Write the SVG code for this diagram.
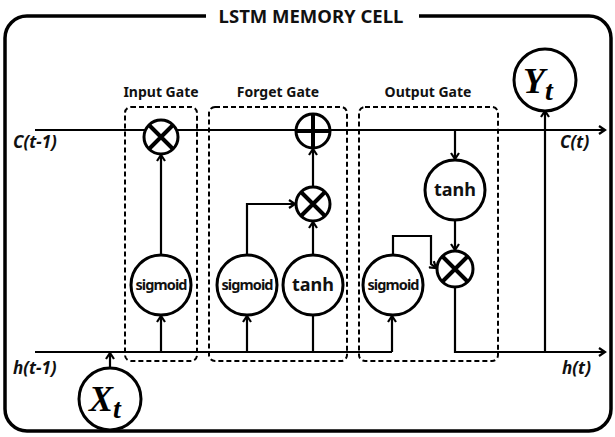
<svg xmlns="http://www.w3.org/2000/svg" width="615" height="437" viewBox="0 0 615 437">
<style>
.frame{fill:none;stroke:#000;stroke-width:3.5}
.gate{fill:none;stroke:#000;stroke-width:2;stroke-dasharray:5 3}
.node{fill:#fff;stroke:#000;stroke-width:3}
.op{stroke:#000;stroke-width:4}
.line{fill:none;stroke:#000;stroke-width:2.2}
.arr{fill:none;stroke:#000;stroke-width:2.2;marker-end:url(#ah)}
.t{font-family:"Noto Sans","Liberation Sans",sans-serif;font-weight:bold;fill:#111}
.gl{font-size:14px;text-anchor:middle}
.fn{font-size:14.5px;text-anchor:middle;letter-spacing:-0.9px}
.th{font-size:18px;text-anchor:middle}
.io{font-size:17px;font-style:italic}
.math{font-family:"Liberation Serif","DejaVu Serif",serif;font-weight:bold;font-style:italic;fill:#000}
</style>
<defs>
<marker id="ah" markerWidth="10" markerHeight="10" refX="8" refY="5" orient="auto" markerUnits="userSpaceOnUse">
<path d="M2,1 L8,5 L2,9" fill="none" stroke="#000" stroke-width="2.2"/>
</marker>
</defs>
<rect width="615" height="437" fill="#fff"/>
<g id="frame">
<rect class="frame" x="5" y="16" width="606" height="415" rx="22"/>
<rect x="206" y="4" width="213" height="24" fill="#fff"/>
<text class="t" x="311" y="23" font-size="18.5" text-anchor="middle">LSTM MEMORY CELL</text>
</g>
<g id="gates">
<rect class="gate" x="125" y="107" width="72" height="254" rx="6"/>
<text class="t gl" x="161" y="97">Input Gate</text>
<rect class="gate" x="209" y="107" width="138" height="254" rx="6"/>
<text class="t gl" x="278" y="97">Forget Gate</text>
<rect class="gate" x="359" y="107" width="139" height="254" rx="6"/>
<text class="t gl" x="428" y="97">Output Gate</text>
</g>
<g id="connectors">
<path class="arr" d="M35,130 H605"/>
<path class="line" d="M35,352 H392"/>
<path class="arr" d="M392,352 V316"/>
<path class="arr" d="M455,287 V352 H605"/>
<path class="arr" d="M545,352 V111"/>
<path class="arr" d="M110,368 V353"/>
<path class="arr" d="M161,352 V316"/>
<path class="arr" d="M161,255 V155"/>
<path class="arr" d="M247,352 V316"/>
<path class="line" d="M313,352 V315"/>
<path class="arr" d="M247,255 V204 H295"/>
<path class="arr" d="M313,255 V222"/>
<path class="arr" d="M313,187 V149"/>
<path class="arr" d="M455,130 V159"/>
<path class="arr" d="M455,220 V250"/>
<path class="arr" d="M393,255 V236 H431 V264 L436,268"/>
</g>
<g id="input-mul">
<circle class="node" cx="161" cy="137" r="17"/>
<path class="op" d="M149,125 L173,149 M173,125 L149,149"/>
</g>
<g id="forget-add">
<circle class="node" cx="313" cy="131" r="17"/>
<path class="op" d="M313,114 V148 M296,131 H330"/>
</g>
<g id="forget-mul">
<circle class="node" cx="313" cy="204" r="17"/>
<path class="op" d="M301,192 L325,216 M325,192 L301,216"/>
</g>
<g id="output-mul">
<circle class="node" cx="455" cy="269" r="18"/>
<path class="op" d="M442,256 L468,282 M468,256 L442,282"/>
</g>
<g id="input-sigmoid">
<circle class="node" cx="161" cy="285" r="30"/>
<text class="t fn" x="161" y="290">sigmoid</text>
</g>
<g id="forget-sigmoid">
<circle class="node" cx="247" cy="285" r="30"/>
<text class="t fn" x="247" y="290">sigmoid</text>
</g>
<g id="forget-tanh">
<circle class="node" cx="313" cy="285" r="30"/>
<text class="t th" x="313" y="291">tanh</text>
</g>
<g id="output-sigmoid">
<circle class="node" cx="393" cy="285" r="30"/>
<text class="t fn" x="393" y="290">sigmoid</text>
</g>
<g id="output-tanh">
<circle class="node" cx="455" cy="190" r="30"/>
<text class="t th" x="455" y="196">tanh</text>
</g>
<g id="Yt">
<circle class="node" cx="545" cy="80" r="31"/>
<text class="math" x="523" y="93" font-size="36">Y<tspan font-size="28" dy="7">t</tspan></text>
</g>
<g id="Xt">
<circle class="node" cx="110" cy="399" r="31"/>
<text class="math" x="89" y="411" font-size="36">X<tspan font-size="28" dy="7">t</tspan></text>
</g>
<g id="labels">
<text class="t io" x="13" y="148">C(t-1)</text>
<text class="t io" x="560" y="148">C(t)</text>
<text class="t io" x="13" y="374">h(t-1)</text>
<text class="t io" x="562" y="374">h(t)</text>
</g>
</svg>
